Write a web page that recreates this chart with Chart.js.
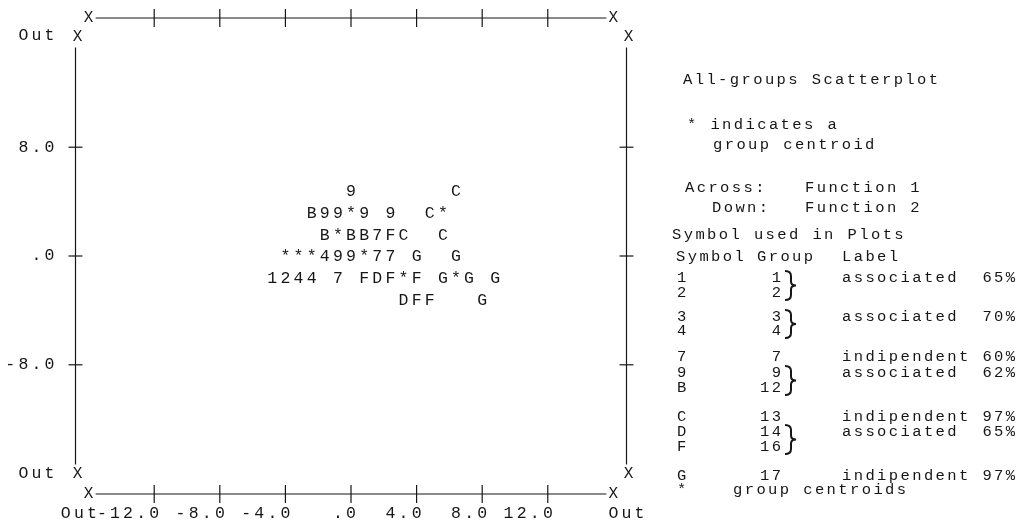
<!DOCTYPE html>
<html>
<head>
<meta charset="utf-8">
<script src="https://cdn.jsdelivr.net/npm/chart.js@4.4.1/dist/chart.umd.min.js"></script>
<style>
html, body { margin: 0; padding: 0; background: #fff; }
canvas { display: block; }
</style>
</head>
<body>
<canvas id="myScatter" width="1027" height="525"></canvas>
<script>
// cases per group, [Function 1, Function 2]
var group1 = [[-4.8, -1.6]];
var group2 = [[-4.0, -1.6]];
var group4 = [[-1.6, 0], [-3.2, -1.6], [-2.4, -1.6]];
var group7 = [[1.6, 1.6], [1.6, 0], [2.4, 0], [-0.8, -1.6]];
var group9 = [[0, 4.8], [-1.6, 3.2], [-0.8, 3.2], [0.8, 3.2], [2.4, 3.2], [-0.8, 0], [0, 0]];
var group12 = [[-2.4, 3.2], [-1.6, 1.6], [0, 1.6], [0.8, 1.6]];
var group13 = [[6.4, 4.8], [4.8, 3.2], [3.2, 1.6], [5.6, 1.6]];
var group14 = [[1.6, -1.6], [3.2, -3.2]];
var group16 = [[2.4, 1.6], [0.8, -1.6], [2.4, -1.6], [4.0, -1.6], [4.0, -3.2], [4.8, -3.2]];
var group17 = [[4.0, 0], [6.4, 0], [5.6, -1.6], [7.2, -1.6], [8.8, -1.6], [8.0, -3.2]];
var centroids = [[0, 3.2], [5.6, 3.2], [-0.8, 1.6], [-4.0, 0], [-3.2, 0], [-2.4, 0], [0.8, 0], [3.2, -1.6], [6.4, -1.6]];

var xTicks = [-12, -8, -4, 0, 4, 8, 12];
var xTickLabels = ['-12.0', '-8.0', '-4.0', '.0', '4.0', '8.0', '12.0'];
var yTicks = [8, 0, -8];
var yTickLabels = ['8.0', '.0', '-8.0'];
var axisEnds = [-16, 16];

// symbol key
var keySymbols = ['1', '2', '3', '4', '7', '9', 'B', 'C', 'D', 'F', 'G', '*'];
var keyGroups = ['1', '2', '3', '4', '7', '9', '12', '13', '14', '16', '17', ''];
var keyLabels = ['associated  65%', '', 'associated  70%', '', 'indipendent 60%', 'associated  62%', '',
                 'indipendent 97%', 'associated  65%', '', 'indipendent 97%', ''];
var keyPairs = [[0, 1], [2, 3], [5, 6], [8, 9]];

var INK = '#161616';
var FONT = '"Liberation Mono", "DejaVu Sans Mono", monospace';
var keyRowY = [278, 293, 317, 331, 357, 373, 388, 417, 432, 447, 476, 490];

function setFont(ctx, size, spacing) {
    ctx.font = size + 'px ' + FONT;
    if ('letterSpacing' in ctx) ctx.letterSpacing = spacing + 'px';
}

function seg(ctx, x1, y1, x2, y2) {
    ctx.beginPath();
    ctx.moveTo(x1, y1);
    ctx.lineTo(x2, y2);
    ctx.stroke();
}

var framePlugin = {
    id: 'frame',
    afterDraw: function (chart) {
        var ctx = chart.ctx, a = chart.chartArea;
        var xs = chart.scales.x, ys = chart.scales.y;
        var xl = xs.getPixelForValue(axisEnds[0]), xr = xs.getPixelForValue(axisEnds[1]);
        var yt = ys.getPixelForValue(axisEnds[1]), yb = ys.getPixelForValue(axisEnds[0]);
        ctx.save();
        ctx.strokeStyle = INK;
        ctx.fillStyle = INK;
        ctx.lineWidth = 1.2;
        ctx.textBaseline = 'middle';

        // horizontal rules with ticks
        [a.top, a.bottom].forEach(function (y) {
            seg(ctx, xl + 7, y, xr - 7, y);
            xTicks.forEach(function (t) {
                var px = xs.getPixelForValue(t);
                seg(ctx, px, y - 9, px, y + 9);
            });
            setFont(ctx, 16, 0);
            ctx.textAlign = 'center';
            ctx.fillText('X', xl, y);
            ctx.fillText('X', xr, y);
        });

        // vertical rules with ticks
        [a.left, a.right].forEach(function (x) {
            seg(ctx, x, yt + 9, x, yb - 9);
            yTicks.forEach(function (t) {
                var py = ys.getPixelForValue(t);
                seg(ctx, x - 7, py, x + 7, py);
            });
            setFont(ctx, 16, 0);
            ctx.textAlign = 'center';
            ctx.fillText('X', x + 2, yt - 2);
            ctx.fillText('X', x + 2, yb);
        });

        // tick labels
        var sp = 3.2;
        setFont(ctx, 16.5, sp);
        ctx.textAlign = 'right';
        yTicks.forEach(function (t, i) {
            ctx.fillText(yTickLabels[i], a.left - 21 + sp, ys.getPixelForValue(t));
        });
        ctx.fillText('Out', a.left - 21 + sp, yt - 3);
        ctx.fillText('Out', a.left - 21 + sp, yb);

        var ly = a.bottom + 20;
        var firstStart = 0;
        xTicks.forEach(function (t, i) {
            var right = xs.getPixelForValue(t) + 5 + sp;
            if (i === 0) firstStart = right - ctx.measureText(xTickLabels[i]).width;
            ctx.fillText(xTickLabels[i], right, ly);
        });
        ctx.fillText('Out', firstStart + sp, ly);
        ctx.textAlign = 'left';
        ctx.fillText('Out', xr - 5, ly);
        ctx.restore();
    }
};

var symbolPlugin = {
    id: 'symbols',
    afterDatasetsDraw: function (chart) {
        var ctx = chart.ctx;
        ctx.save();
        setFont(ctx, 16.5, 0);
        ctx.fillStyle = INK;
        ctx.textAlign = 'center';
        ctx.textBaseline = 'middle';
        chart.data.datasets.forEach(function (ds, i) {
            chart.getDatasetMeta(i).data.forEach(function (el) {
                ctx.fillText(ds.symbol, el.x, el.y + 1);
            });
        });
        ctx.restore();
    }
};

function brace(ctx, x, y1, y2) {
    var m = (y1 + y2) / 2;
    ctx.beginPath();
    ctx.moveTo(x, y1);
    ctx.quadraticCurveTo(x + 6, y1, x + 6, y1 + 5);
    ctx.lineTo(x + 6, m - 4);
    ctx.quadraticCurveTo(x + 6, m, x + 11, m);
    ctx.quadraticCurveTo(x + 6, m, x + 6, m + 4);
    ctx.lineTo(x + 6, y2 - 5);
    ctx.quadraticCurveTo(x + 6, y2, x, y2);
    ctx.stroke();
}

var keyPlugin = {
    id: 'symbolKey',
    afterDraw: function (chart) {
        var ctx = chart.ctx;
        ctx.save();
        ctx.fillStyle = INK;
        ctx.strokeStyle = INK;
        ctx.textBaseline = 'middle';
        ctx.textAlign = 'left';
        setFont(ctx, 15.5, 2.4);
        ctx.fillText('All-groups Scatterplot', 683, 80);
        ctx.fillText('* indicates a', 687, 125);
        ctx.fillText('group centroid', 713, 145);
        ctx.fillText('Across:', 685, 188);
        ctx.fillText('Function 1', 805, 188);
        ctx.fillText('Down:', 712, 208);
        ctx.fillText('Function 2', 805, 208);
        ctx.fillText('Symbol used in Plots', 672, 235);
        ctx.fillText('Symbol', 676, 257);
        ctx.fillText('Group', 757, 257);
        ctx.fillText('Label', 842, 257);
        keySymbols.forEach(function (s, i) {
            var y = keyRowY[i];
            ctx.textAlign = 'left';
            ctx.fillText(s, 677, y);
            if (keyLabels[i]) ctx.fillText(keyLabels[i], 842, y);
            ctx.textAlign = 'right';
            if (keyGroups[i]) ctx.fillText(keyGroups[i], 781 + 2.4, y);
        });
        ctx.textAlign = 'left';
        ctx.fillText('group centroids', 733, keyRowY[keyRowY.length - 1]);
        ctx.lineWidth = 2;
        keyPairs.forEach(function (p) {
            brace(ctx, 785, keyRowY[p[0]] - 7, keyRowY[p[1]] + 7);
        });
        ctx.restore();
    }
};

function toPoints(arr) {
    return arr.map(function (p) { return { x: p[0], y: p[1] }; });
}

var series = [
    ['1', group1], ['2', group2], ['4', group4], ['7', group7], ['9', group9],
    ['B', group12], ['C', group13], ['D', group14], ['F', group16], ['G', group17],
    ['*', centroids]
];

var ctx = document.getElementById('myScatter');
var myScatter = new Chart(ctx, {
    type: 'scatter',
    data: {
        datasets: series.map(function (s) {
            return { label: s[0], symbol: s[0], data: toPoints(s[1]), pointRadius: 0, pointHoverRadius: 0 };
        })
    },
    options: {
        responsive: false,
        animation: false,
        devicePixelRatio: 1,
        layout: { padding: { left: 75.5, right: 400.5, top: 18, bottom: 31 } },
        scales: {
            x: { type: 'linear', min: -16.8, max: 16.8, display: false },
            y: { type: 'linear', min: -17.5, max: 17.5, display: false }
        },
        plugins: {
            legend: { display: false },
            tooltip: { enabled: false }
        }
    },
    plugins: [framePlugin, symbolPlugin, keyPlugin]
});
</script>
</body>
</html>
